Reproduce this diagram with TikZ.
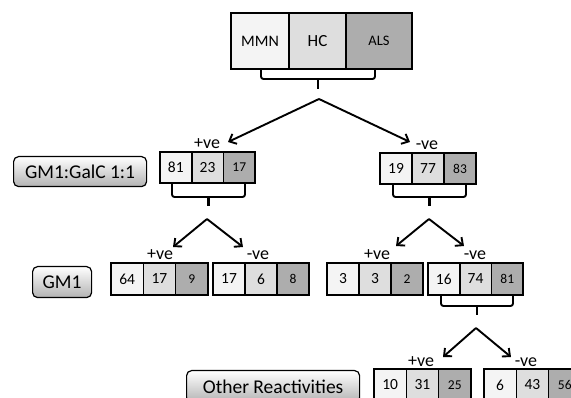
\documentclass[tikz,border=0pt]{standalone}
\usepackage{fontspec}
\setmainfont{Carlito}
\usetikzlibrary{arrows.meta}
\definecolor{cA}{HTML}{F4F4F4}
\definecolor{cB}{HTML}{DEDEDE}
\definecolor{cC}{HTML}{ADADAD}
\tikzset{
  cell/.style={draw, line width=1.6pt, inner sep=0pt, outer sep=0pt, anchor=north west,
    font=\fontsize{15.5}{15.5}\selectfont},
  lab/.style={draw, line width=1.2pt, rounded corners=5pt, top color=white, bottom color=black!30,
    inner sep=0pt, anchor=north west, font=\fontsize{19.5}{19.5}\selectfont},
  sgn/.style={font=\fontsize{18}{18}\selectfont, inner sep=0pt},
  brk/.style={line width=1.9pt, rounded corners=2.5pt},
  stem/.style={line width=2.8pt},
  arr/.style={line width=1.9pt, -{Straight Barb[length=6pt,width=11pt,line width=1.9pt]}},
}
\newcommand\mytrip[8]{%
  \node[cell, fill=cA, minimum width=#4pt, minimum height=#5pt] (#1a) at (#2,#3) {#6};
  \node[cell, fill=cB, minimum width=#4pt, minimum height=#5pt] (#1b) at (#1a.north east) {#7};
  \node[cell, fill=cC, minimum width=#4pt, minimum height=#5pt, font=\fontsize{13.5}{13.5}\selectfont] (#1c) at (#1b.north east) {#8};
}
\newcommand\mybrack[5]{% x1 x2 ytop ybot ystemend
  \draw[brk] (#1,#3) -- (#1,#4) -- (#2,#4) -- (#2,#3);
  \draw[stem] ({(#1+#2)/2},#4) -- ({(#1+#2)/2},#5);
}
\begin{document}
\begin{tikzpicture}[x=1pt,y=-1pt]
\useasboundingbox (0,0) rectangle (571,398);
\clip (0,0) rectangle (571,398);
% top
\node[cell, fill=cA, minimum width=58pt, minimum height=56pt, font=\fontsize{16}{16}\selectfont] (ta) at (231,13) {MMN};
\node[cell, fill=cB, minimum width=57pt, minimum height=56pt, font=\fontsize{17}{17}\selectfont] (tb) at (ta.north east) {HC};
\node[cell, fill=cC, minimum width=66pt, minimum height=56pt, font=\fontsize{14.5}{14.5}\selectfont] (tc) at (tb.north east) {ALS};
\mybrack{261}{375}{69}{79}{89}
\coordinate (ap0) at (319,99);
\node[sgn] (p1) at (207,144) {+ve};
\node[sgn] (n1) at (427,145) {-ve};
\draw[arr] (ap0) -- (228,142);
\draw[arr] (ap0) -- (410,142);
% level 1
\node[lab, minimum width=133pt, minimum height=30pt] (g1) at (13,156) {GM1:GalC 1:1};
\mytrip{L1a}{160}{152}{31.7}{31}{81}{23}{17}
\mytrip{L1b}{380}{153}{32}{31}{19}{77}{83}
\mybrack{172}{245}{183}{197}{206}
\mybrack{393}{466}{184}{197}{206}
% level 2
\coordinate (ap1) at (207,219);
\coordinate (ap2) at (429,219);
\node[sgn] (p2) at (160,255) {+ve};
\node[sgn] (n2) at (258,255) {-ve};
\node[sgn] (p3) at (377,255) {+ve};
\node[sgn] (n3) at (475,255) {-ve};
\draw[arr] (ap1) -- (173,247);
\draw[arr] (ap1) -- (243,247);
\draw[arr] (ap2) -- (396,246);
\draw[arr] (ap2) -- (464,246);
\node[lab, minimum width=59pt, minimum height=31pt] (g2) at (32,266) {GM1};
\mytrip{L2a}{111}{263}{32.3}{32}{64}{17}{9}
\mytrip{L2b}{213}{263}{32}{32}{17}{6}{8}
\mytrip{L2c}{327}{263}{32}{32}{3}{3}{2}
\mytrip{L2d}{428}{263}{31.7}{32}{16}{74}{81}
\mybrack{441}{513}{295}{306}{315}
% level 3
\coordinate (ap3) at (476,328);
\node[sgn] (p4) at (421,362) {+ve};
\node[sgn] (n4) at (526,362) {-ve};
\draw[arr] (ap3) -- (443,357);
\draw[arr] (ap3) -- (511,357);
\node[lab, minimum width=173pt, minimum height=32pt] (g3) at (186,370) {Other Reactivities};
\mytrip{L3a}{374}{369}{32.3}{32}{10}{31}{25}
\mytrip{L3b}{484}{369}{32.3}{32}{6}{43}{56}
\end{tikzpicture}
\end{document}
